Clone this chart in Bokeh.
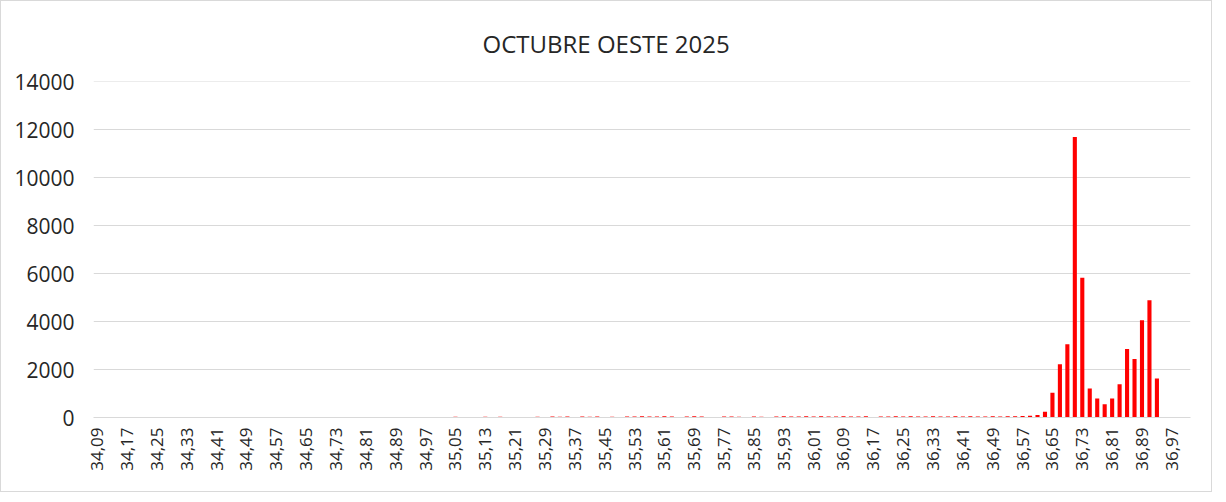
import math
from bokeh.plotting import figure
from bokeh.models import Range1d, FixedTicker, NumeralTickFormatter, Title, ColumnDataSource
from bokeh.embed import file_html
from bokeh.resources import INLINE

# categories 34,09 ... 37,01 (step 0,02)
categories = [f"{34.09 + 0.02 * i:.2f}".replace(".", ",") for i in range(147)]

values = [
    20, 0, 0, 0, 0, 0, 0, 0, 0, 0,
    0, 0, 0, 0, 0, 0, 0, 0, 0, 0,
    0, 0, 0, 0, 0, 0, 0, 0, 0, 0,
    0, 0, 0, 0, 0, 0, 0, 0, 0, 0,
    0, 0, 0, 0, 0, 0, 0, 0, 30, 0,
    0, 0, 30, 0, 30, 0, 0, 0, 0, 30,
    0, 40, 30, 40, 0, 40, 30, 40, 0, 30,
    0, 40, 40, 50, 40, 40, 50, 40, 0, 40,
    50, 40, 0, 0, 40, 40, 30, 0, 40, 30,
    0, 40, 50, 40, 40, 50, 40, 50, 40, 40,
    50, 40, 40, 50, 0, 40, 40, 50, 40, 50,
    40, 40, 50, 40, 40, 50, 40, 50, 40, 40,
    50, 40, 50, 50, 60, 70, 100, 240, 1030, 2220,
    3050, 11700, 5830, 1210, 790, 550, 790, 1390, 2860, 2440,
    4060, 4890, 1625, 0, 0, 0, 0,
]

y_ticks = [0, 2000, 4000, 6000, 8000, 10000, 12000, 14000]
label_every = 4
title_text = "OCTUBRE OESTE 2025"

positions = list(range(len(categories)))
source = ColumnDataSource(data=dict(x=positions, top=values, cat=categories))

FONT = "Open Sans"
TXT = "#262626"

p = figure(
    width=1212, height=492,
    x_range=Range1d(-0.5, len(categories) - 0.5),
    y_range=Range1d(y_ticks[0], y_ticks[-1] * 1.0008),
    output_backend="svg", toolbar_location=None,
    min_border_left=92, min_border_right=23,
    min_border_top=80, min_border_bottom=76,
)
p.styles = {"border": "1px solid #d9d9d9"}
p.outline_line_color = None
p.background_fill_color = "white"
p.border_fill_color = "white"

p.vbar(x="x", top="top", width=0.55, bottom=0, source=source,
       fill_color="#FF0000", line_color=None)

p.xgrid.visible = False
p.ygrid.grid_line_color = "#d9d9d9"
p.ygrid.grid_line_width = 1
p.ygrid.ticker = FixedTicker(ticks=y_ticks)

p.yaxis.ticker = FixedTicker(ticks=y_ticks)
p.yaxis.formatter = NumeralTickFormatter(format="0")
p.yaxis.axis_line_color = None
p.yaxis.major_tick_line_color = None
p.yaxis.minor_tick_line_color = None
p.yaxis.major_tick_out = 0
p.yaxis.major_tick_in = 0
p.yaxis.major_label_standoff = 19
p.yaxis.major_label_text_font = FONT
p.yaxis.major_label_text_font_size = "21px"
p.yaxis.major_label_text_color = TXT

tick_pos = positions[::label_every]
p.xaxis.ticker = FixedTicker(ticks=tick_pos)
p.xaxis.major_label_overrides = {i: categories[i] for i in tick_pos}
p.xaxis.major_label_orientation = math.pi / 2
p.xaxis.axis_line_color = "#d9d9d9"
p.xaxis.major_tick_line_color = None
p.xaxis.minor_tick_line_color = None
p.xaxis.major_tick_out = 0
p.xaxis.major_tick_in = 0
p.xaxis.major_label_standoff = 10
p.xaxis.major_label_text_font = FONT
p.xaxis.major_label_text_font_size = "17px"
p.xaxis.major_label_text_color = TXT

p.title = Title(text=title_text, align="left", offset=389, vertical_align="top",
                text_font=FONT, text_font_size="24px", text_font_style="normal",
                text_color=TXT, standoff=40)

open("out.html", "w").write(file_html(p, INLINE))
